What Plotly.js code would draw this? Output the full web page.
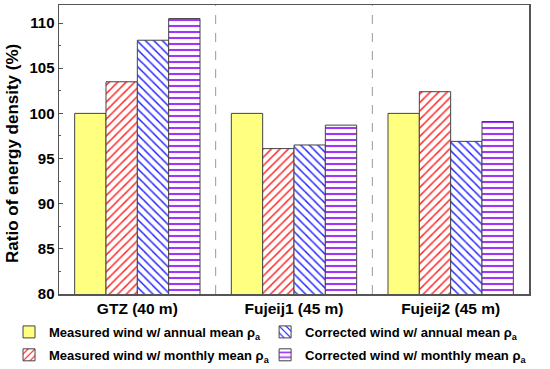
<!DOCTYPE html>
<html><head><meta charset="utf-8">
<script src="https://cdn.plot.ly/plotly-3.0.1.min.js"></script>
<style>html,body{margin:0;padding:0;background:#fff}</style>
</head><body>
<div id="chart" style="width:550px;height:369px"></div>
<script>
const sites = ["GTZ (40 m)", "Fujeij1 (45 m)", "Fujeij2 (45 m)"];
const measuredAnnual = [100, 100, 100];
const measuredMonthly = [103.5, 96.1, 102.4];
const correctedAnnual = [108.1, 96.5, 96.9];
const correctedMonthly = [110.5, 98.7, 99.1];
const seriesNames = [
  "Measured wind w/ annual mean ρ<sub>a</sub>",
  "Measured wind w/ monthly mean ρ<sub>a</sub>",
  "Corrected wind w/ annual mean ρ<sub>a</sub>",
  "Corrected wind w/ monthly mean ρ<sub>a</sub>"
];
const yTicks = [80, 85, 90, 95, 100, 105, 110];
const yTitle = 'Ratio of energy density (%)';

const edge = {color: '#444', width: 1};
const traces = [
  {type:'bar', x:sites, y:measuredAnnual, name:seriesNames[0], legend:'legend', legendgroup:'a',
   marker:{color:'#ffff80', line:edge}},
  {type:'bar', x:sites, y:measuredMonthly, name:seriesNames[1], legend:'legend', legendgroup:'b',
   marker:{color:'#ffffff', line:edge, pattern:{shape:'/', fgcolor:'#ff2a2a', bgcolor:'#ffffff', size:6, solidity:0.25}}},
  {type:'bar', x:sites, y:correctedAnnual, name:seriesNames[2], legend:'legend2', legendgroup:'c',
   marker:{color:'#ffffff', line:edge, pattern:{shape:'\\', fgcolor:'#2a2aff', bgcolor:'#ffffff', size:6, solidity:0.25}}},
  {type:'bar', x:sites, y:correctedMonthly, name:seriesNames[3], legend:'legend2', legendgroup:'d',
   marker:{color:'#ffffff', line:edge, pattern:{shape:'-', fgcolor:'#a335f5', bgcolor:'#ffffff', size:6, solidity:0.35}}}
];

const legendBase = {orientation:'v', xref:'container', yref:'container', xanchor:'left', yanchor:'top',
  y:0.141, traceorder:'grouped', tracegroupgap:3, itemclick:false, bgcolor:'rgba(0,0,0,0)',
  font:{size:13, family:'Liberation Sans, Arial, sans-serif', weight:'bold', color:'#000'}};

const layout = {
  width:550, height:369,
  margin:{l:59, r:21, t:5, b:75, autoexpand:false},
  paper_bgcolor:'#fff', plot_bgcolor:'#fff',
  font:{family:'Liberation Sans, Arial, sans-serif', color:'#000'},
  barmode:'group', bargap:0.2, bargroupgap:0,
  showlegend:true,
  legend:Object.assign({}, legendBase, {x:0.0164}),
  legend2:Object.assign({}, legendBase, {x:0.482}),
  xaxis:{showline:true, mirror:true, linecolor:'#555', linewidth:1.5, ticks:'',
    tickfont:{size:15.5, weight:'bold'}, showgrid:false, tickangle:0},
  yaxis:{range:[80,112], tickvals:yTicks, ticks:'inside', ticklen:4, tickcolor:'#555',
    minor:{dtick:2.5, ticks:'inside', ticklen:2, tickcolor:'#555', showgrid:false},
    showline:true, mirror:true, linecolor:'#555', linewidth:1.5, showgrid:false, zeroline:false,
    tickfont:{size:15, weight:'bold'}},
  annotations:[{text:yTitle, xref:'paper', yref:'paper', x:-0.098, y:0.488, xanchor:'center', yanchor:'middle',
    textangle:-90, showarrow:false, font:{size:17, weight:'bold', family:'Liberation Sans, Arial, sans-serif'}}],
  shapes:[0.5, 1.5].map(v => ({type:'line', xref:'x', yref:'paper', x0:v, x1:v, y0:0, y1:1,
    line:{color:'#999', width:1, dash:'dash'}}))
};
Plotly.newPlot('chart', traces, layout, {displayModeBar:false, staticPlot:true});
</script>
</body></html>
